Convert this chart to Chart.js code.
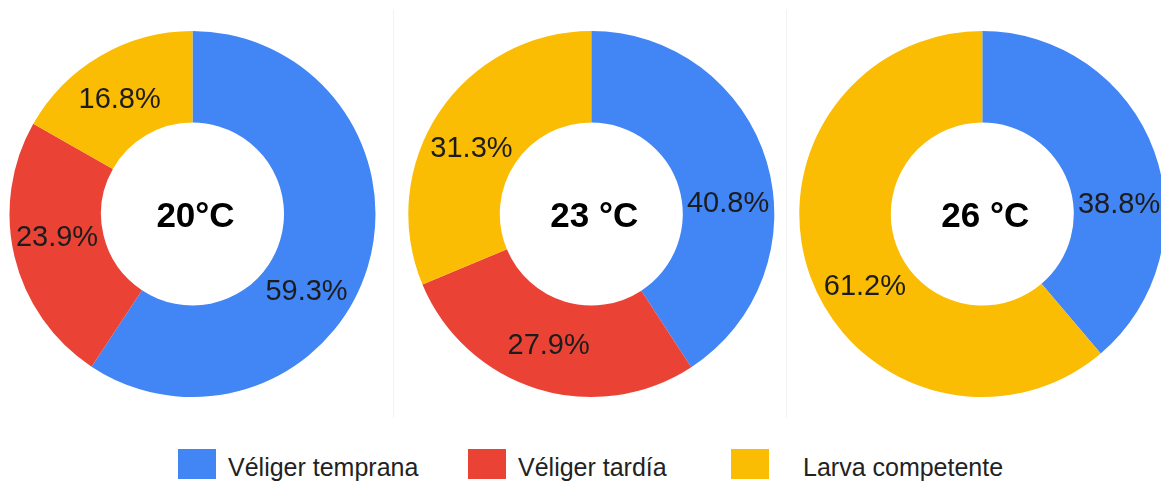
<!DOCTYPE html>
<html lang="es">
<head>
<meta charset="utf-8">
<title>Estadios larvales por temperatura</title>
<script src="https://cdn.jsdelivr.net/npm/chart.js@4/dist/chart.umd.min.js"></script>
<style>
  html, body {
    margin: 0;
    padding: 0;
    background: #ffffff;
    width: 1161px;
    height: 484px;
    overflow: hidden;
    font-family: "Liberation Sans", Arial, sans-serif;
  }
  .panel {
    position: absolute;
    top: 0;
    width: 393px;
    height: 420px;
  }
  .divider {
    position: absolute;
    top: 10px;
    width: 1px;
    height: 408px;
    background: #f3f3f3;
  }
  .legend-box {
    position: absolute;
    top: 449px;
    width: 38px;
    height: 30px;
  }
  .legend-text {
    position: absolute;
    top: 452px;
    height: 30px;
    line-height: 30px;
    font-size: 25px;
    color: #222;
    white-space: nowrap;
  }
</style>
</head>
<body>

<div class="panel" style="left:0px"><canvas id="chart20" width="393" height="420"></canvas></div>
<div class="panel" style="left:393px"><canvas id="chart23" width="393" height="420"></canvas></div>
<div class="panel" style="left:786px"><canvas id="chart26" width="393" height="420"></canvas></div>
<div class="divider" style="left:393px"></div>
<div class="divider" style="left:786px"></div>
<div id="legend"></div>

<script>
// stages shown in every ring
const categories = ["Véliger temprana", "Véliger tardía", "Larva competente"]
const colors = ["#4285F4", "#EA4335", "#FBBC04"]

// percentage of larvae in each stage, one array per temperature
const temperatures = ["20°C", "23 °C", "26 °C"]
const values20 = [59.3, 23.9, 16.8]
const values23 = [40.8, 27.9, 31.3]
const values26 = [38.8, 0, 61.2]

// where along each slice the percentage text sits (0 = start, 1 = end)
const labelAlong20 = [0.58, 0.55, 0.47]
const labelAlong23 = [0.58, 0.51, 0.46]
const labelAlong26 = [0.61, 0.5, 0.45]

// legend placement
const legendBoxX = [178, 468, 731]
const legendTextX = [228, 518, 803]

// Draws the "xx.x%" text on each slice and the temperature in the hole
const ringLabels = {
  id: "ringLabels",
  afterDatasetsDraw(chart, args, opts) {
    const ctx = chart.ctx
    const arcs = chart.getDatasetMeta(0).data
    const values = chart.data.datasets[0].data
    ctx.save()
    ctx.fillStyle = "#1c1c1c"
    ctx.textAlign = "center"
    ctx.textBaseline = "middle"
    ctx.font = "29px 'Liberation Sans', Arial, sans-serif"
    arcs.forEach((arc, i) => {
      if (!values[i]) return
      const p = arc.getProps(["x", "y", "startAngle", "endAngle", "innerRadius", "outerRadius"], true)
      const a = p.startAngle + (p.endAngle - p.startAngle) * opts.along[i]
      const r = (p.innerRadius + p.outerRadius) / 2
      ctx.fillText(values[i].toFixed(1) + "%", p.x + Math.cos(a) * r, p.y + Math.sin(a) * r + 2)
    })
    // temperature in the middle
    const c = arcs[0].getProps(["x", "y"], true)
    ctx.fillStyle = "#000"
    ctx.font = "bold 35px 'Liberation Sans', Arial, sans-serif"
    ctx.fillText(opts.title, c.x + 3, c.y + 3)
    ctx.restore()
  }
}

function makeRing(id, values, title, along, padding) {
  const ctx = document.getElementById(id).getContext("2d")
  return new Chart(ctx, {
    type: "doughnut",
    data: {
      labels: categories,
      datasets: [
        {
          data: values,
          backgroundColor: colors,
          borderWidth: 0,
          hoverBorderWidth: 0,
          hoverOffset: 0,
        },
      ],
    },
    options: {
      responsive: false,
      devicePixelRatio: 1,
      animation: false,
      events: [],
      cutout: "50%",
      layout: { padding: padding },
      plugins: {
        legend: { display: false },
        tooltip: { enabled: false },
        ringLabels: { title: title, along: along },
      },
    },
    plugins: [ringLabels],
  })
}

makeRing("chart20", values20, temperatures[0], labelAlong20, { left: 9.5, right: 17.5, top: 31, bottom: 23 })
makeRing("chart23", values23, temperatures[1], labelAlong23, { left: 15.3, right: 11.7, top: 31, bottom: 23 })
makeRing("chart26", values26, temperatures[2], labelAlong26, { left: 13.3, right: 13.7, top: 31, bottom: 23 })

// shared legend under the three rings
const legend = document.getElementById("legend")
categories.forEach((name, i) => {
  const box = document.createElement("div")
  box.className = "legend-box"
  box.style.left = legendBoxX[i] + "px"
  box.style.background = colors[i]
  legend.appendChild(box)

  const text = document.createElement("div")
  text.className = "legend-text"
  text.style.left = legendTextX[i] + "px"
  text.textContent = name
  legend.appendChild(text)
})
</script>
</body>
</html>
